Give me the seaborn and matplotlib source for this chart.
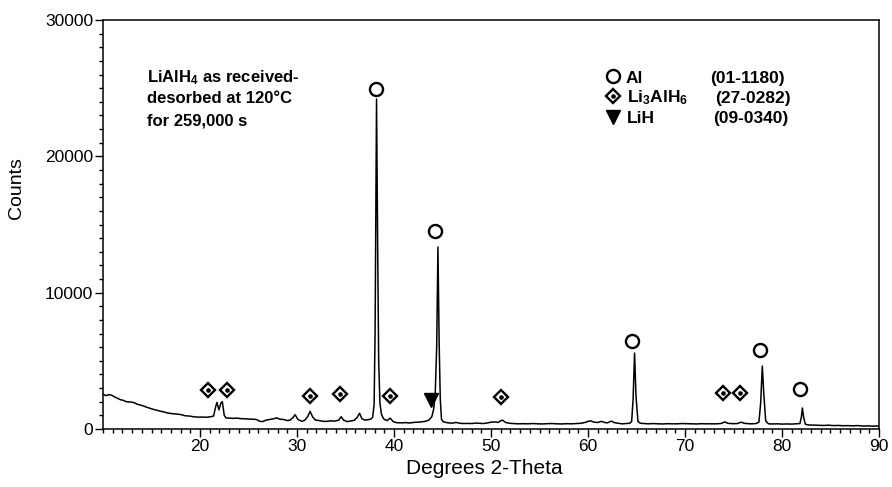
import matplotlib
matplotlib.use("Agg")
import numpy as np
import pandas as pd
import matplotlib.pyplot as plt
import seaborn as sns
from matplotlib.ticker import MultipleLocator

# ---------------- data ----------------
two_theta = [
    10.0, 10.3, 10.6, 10.9, 11.2, 11.5, 11.8, 12.1, 12.4, 12.7, 13.0, 13.3,
    13.6, 13.9, 14.2, 14.5, 14.8, 15.1, 15.4, 15.7, 16.0, 16.3, 16.6, 16.9,
    17.2, 17.5, 17.8, 18.1, 18.4, 18.7, 19.0, 19.3, 19.6, 19.9, 20.2, 20.5,
    20.8, 21.1, 21.4, 21.6, 21.75, 21.95, 22.15, 22.3, 22.5, 22.7, 23.0, 23.4,
    23.8, 24.2, 24.6, 25.0, 25.4, 25.8, 26.2, 26.5, 26.8, 27.2, 27.6, 27.9,
    28.2, 28.6, 29.0, 29.3, 29.6, 29.8, 30.1, 30.5, 30.8, 31.1, 31.35, 31.6,
    31.9, 32.3, 32.7, 33.1, 33.5, 33.9, 34.3, 34.55, 34.8, 35.2, 35.6, 35.9,
    36.2, 36.45, 36.7, 37.0, 37.3, 37.6, 37.8, 37.95, 38.05, 38.2, 38.32, 38.42,
    38.55, 38.7, 38.85, 39.0, 39.3, 39.6, 39.9, 40.3, 40.8, 41.2, 41.6, 42.0,
    42.4, 42.8, 43.2, 43.6, 43.9, 44.1, 44.25, 44.4, 44.53, 44.65, 44.77, 44.9,
    45.1, 45.6, 46.0, 46.4, 46.8, 47.2, 47.6, 48.0, 48.4, 48.8, 49.2, 49.6,
    50.0, 50.4, 50.7, 51.0, 51.2, 51.5, 51.9, 52.3, 52.8, 53.3, 53.8, 54.3,
    54.8, 55.3, 55.8, 56.3, 56.8, 57.3, 57.8, 58.3, 58.8, 59.3, 59.7, 60.0,
    60.3, 60.6, 61.0, 61.4, 61.7, 62.0, 62.4, 62.7, 63.1, 63.5, 63.9, 64.3,
    64.5, 64.65, 64.8, 64.95, 65.15, 65.4, 65.8, 66.2, 66.7, 67.2, 67.7, 68.2,
    68.7, 69.2, 69.7, 70.2, 70.7, 71.2, 71.7, 72.2, 72.7, 73.2, 73.7, 74.1,
    74.4, 74.9, 75.4, 75.8, 76.1, 76.5, 76.9, 77.3, 77.62, 77.8, 77.97, 78.12,
    78.32, 78.6, 79.0, 79.5, 80.0, 80.5, 81.0, 81.5, 81.85, 82.0, 82.1, 82.22,
    82.4, 82.7, 83.0, 83.3, 83.8, 84.3, 84.8, 85.3, 85.8, 86.3, 86.8, 87.3,
    87.8, 88.3, 88.8, 89.3, 89.8, 90.0,
]
counts = [
    2550, 2450, 2520, 2480, 2350, 2250, 2150, 2100, 2000, 1980, 1970, 1900,
    1800, 1750, 1680, 1600, 1530, 1460, 1400, 1350, 1290, 1250, 1180, 1150,
    1120, 1100, 1080, 1050, 980, 960, 940, 900, 880, 870, 880, 860,
    870, 900, 950, 1600, 1950, 1400, 1900, 2000, 1000, 800, 800, 780,
    800, 760, 750, 730, 720, 700, 560, 550, 650, 700, 750, 820,
    720, 700, 620, 650, 850, 1050, 700, 560, 650, 900, 1300, 900,
    650, 620, 560, 560, 600, 580, 650, 900, 650, 540, 600, 640,
    850, 1150, 750, 650, 680, 720, 850, 1800, 7000, 24200, 13000, 5000,
    1900, 1100, 850, 700, 620, 800, 550, 460, 450, 470, 440, 480,
    500, 520, 560, 650, 900, 1500, 2600, 6000, 13350, 6500, 2200, 700,
    520, 450, 430, 480, 420, 400, 410, 400, 430, 420, 400, 440,
    500, 520, 480, 600, 650, 480, 420, 400, 380, 390, 380, 400,
    380, 370, 390, 400, 380, 370, 390, 380, 400, 420, 480, 560,
    600, 500, 480, 560, 480, 450, 580, 470, 420, 380, 400, 420,
    550, 2200, 5570, 2400, 550, 420, 400, 380, 400, 380, 370, 390,
    380, 380, 400, 390, 380, 370, 390, 380, 380, 380, 400, 520,
    420, 390, 400, 500, 420, 390, 380, 400, 500, 1900, 4620, 2600,
    600, 380, 370, 380, 360, 370, 360, 380, 400, 900, 1540, 900,
    350, 300, 290, 280, 270, 260, 280, 250, 260, 240, 250, 230,
    250, 220, 230, 210, 220, 210,
]

# phase markers
al_x = [38.1, 44.2, 64.5, 77.7, 81.9]
al_y = [24940, 14520, 6450, 5790, 2930]
li3alh6_x = [20.8, 22.8, 31.3, 34.4, 39.6, 51.0, 73.9, 75.7]
li3alh6_y = [2860, 2860, 2420, 2570, 2420, 2350, 2640, 2640]
lih_x = [43.8]
lih_y = [2130]

legend_names = ["Al", "Li$_3$AlH$_6$", "LiH"]
legend_codes = ["(01-1180)", "(27-0282)", "(09-0340)"]

title_lines = ["LiAlH$_4$ as received-", "desorbed at 120\u00b0C", "for 259,000 s"]

# ---------------- style ----------------
sns.set_style("ticks")
plt.rcParams["font.family"] = ["Liberation Sans", "DejaVu Sans"]
plt.rcParams["mathtext.fontset"] = "custom"
plt.rcParams["mathtext.rm"] = "Liberation Sans"
plt.rcParams["mathtext.bf"] = "Liberation Sans:bold"
plt.rcParams["mathtext.it"] = "Liberation Sans:italic"
plt.rcParams["mathtext.default"] = "bf"
for key in ["text.color", "axes.labelcolor", "xtick.color", "ytick.color",
            "axes.edgecolor"]:
    plt.rcParams[key] = "black"

fig = plt.figure(figsize=(8.92, 4.87), dpi=100)
W, H = 892, 487
ax = fig.add_axes([103 / W, 1 - 429 / H, 776 / W, 409 / H])

df = pd.DataFrame({"two_theta": two_theta, "counts": counts})
sns.lineplot(data=df, x="two_theta", y="counts", ax=ax, color="black",
             linewidth=1.1, estimator=None, sort=False)

ax.plot(al_x, al_y, "o", ms=9.4, mfc="none", mec="black", mew=1.7)
ax.plot(li3alh6_x, li3alh6_y, "D", ms=6.8, mfc="none", mec="black", mew=1.7)
ax.plot(li3alh6_x, li3alh6_y, "o", ms=2.3, color="black")
ax.plot(lih_x, lih_y, "v", ms=10, color="black")

ax.set_xlim(10, 90)
ax.set_ylim(0, 30000)
ax.set_xticks(list(range(20, 91, 10)))
ax.set_yticks([0, 10000, 20000, 30000])
ax.xaxis.set_minor_locator(MultipleLocator(1))
ax.yaxis.set_minor_locator(MultipleLocator(1000))
ax.tick_params(which="major", direction="out", length=5.5, width=1.0,
               labelsize=12.5, pad=1.5, color="black", labelcolor="black")
ax.tick_params(which="minor", direction="out", length=3, width=1.0, color="black")
for s in ax.spines.values():
    s.set_visible(True)
    s.set_linewidth(1.1)
    s.set_color("black")

ax.set_xlabel("Degrees 2-Theta", fontsize=15, color="black")
ax.set_ylabel("Counts", fontsize=14, color="black")
ax.xaxis.set_label_coords(0.492, -0.073)
ax.yaxis.set_label_coords(-0.100, 0.59)

# title block
for line, yb in zip(title_lines, [0.847, 0.796, 0.741]):
    ax.text(0.0563, yb, line, transform=ax.transAxes, fontsize=12,
            fontweight="bold", va="baseline", ha="left", color="black")

# legend block
mk_y = [0.863, 0.814, 0.763]
ax.plot([0.657], [mk_y[0]], "o", ms=9.4, mfc="none", mec="black", mew=1.7,
        transform=ax.transAxes, clip_on=False)
ax.plot([0.657], [mk_y[1]], "D", ms=6.8, mfc="none", mec="black", mew=1.7,
        transform=ax.transAxes, clip_on=False)
ax.plot([0.657], [mk_y[1]], "o", ms=2.3, color="black",
        transform=ax.transAxes, clip_on=False)
ax.plot([0.657], [mk_y[2]], "v", ms=10, color="black",
        transform=ax.transAxes, clip_on=False)
for name, code, yb, xn, xc in zip(legend_names, legend_codes,
                                   [0.847, 0.798, 0.747],
                                   [0.673, 0.675, 0.675],
                                   [0.782, 0.789, 0.786]):
    ax.text(xn, yb, name, transform=ax.transAxes, fontsize=12.5,
            fontweight="bold", va="baseline", ha="left", color="black")
    ax.text(xc, yb, code, transform=ax.transAxes, fontsize=12.5,
            fontweight="bold", va="baseline", ha="left", color="black")

fig.savefig("out.png", dpi=100)
